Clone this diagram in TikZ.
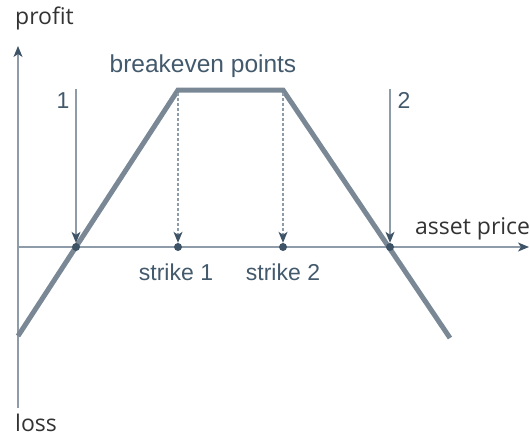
\documentclass[tikz,border=0pt]{standalone}
\usepackage{fontspec}
\setmainfont{Liberation Sans}
\newfontfamily\axisfont{Open Sans}
\usetikzlibrary{arrows.meta}
\definecolor{axisc}{HTML}{8E9CAA}
\definecolor{payc}{HTML}{7A8896}
\definecolor{darkc}{HTML}{3E5366}
\definecolor{labc}{HTML}{43596C}
\definecolor{txtc}{HTML}{333333}
\tikzset{
  axisline/.style={draw=axisc, line width=1.4pt, -{Stealth[length=11pt,width=9pt,inset=3pt,color=darkc,fill=darkc]}},
  payline/.style={draw=payc, line width=5pt, line join=miter},
  pointer/.style={draw=axisc, line width=1.2pt, -{Stealth[length=11pt,width=9pt,inset=3pt,color=darkc,fill=darkc]}},
  dpointer/.style={pointer, dash pattern=on 3pt off 2pt},
  dot/.style={circle, fill=darkc, inner sep=0pt, minimum size=8pt},
  lab/.style={text=labc, font=\fontsize{23}{26}\selectfont, inner sep=0pt},
  axlab/.style={text=txtc, font=\axisfont\fontsize{23}{26}\selectfont, inner sep=0pt},
}
\begin{document}
\begin{tikzpicture}[x=1pt,y=-1pt]
\useasboundingbox (0,0) rectangle (530,437);
% axes
\coordinate (ybot) at (18,408);
\coordinate (ytop) at (18,46);
\coordinate (xl) at (18,247);
\coordinate (xr) at (529,247);
\draw[axisline] (ybot) -- (ytop);
\draw[axisline] (xl) -- (xr);
\node[axlab, anchor=base west] (profit) at (15,24) {profit};
\node[axlab, anchor=base west] (loss) at (15,431) {loss};
\node[axlab, anchor=base west] (asset) at (415,234) {asset price};
% payoff
\coordinate (p0) at (18,336);
\coordinate (p1) at (178,90);
\coordinate (p2) at (283,90);
\coordinate (p3) at (450,338);
\draw[payline] (p0) -- (p1) -- (p2) -- (p3);
% dots
\node[dot] (d1) at (76,247) {};
\node[dot] (s1) at (178,247) {};
\node[dot] (s2) at (283,247) {};
\node[dot] (d2) at (390,247) {};
% pointers
\coordinate (a1) at (76,89);
\coordinate (a2) at (390,89);
\coordinate (b1) at (178,93);
\coordinate (b2) at (283,93);
\draw[pointer] (a1) -- (d1.north);
\draw[pointer] (a2) -- (d2.north);
\draw[dpointer] (b1) -- (s1.north);
\draw[dpointer] (b2) -- (s2.north);
% labels
\node[lab, anchor=base] (l1) at (63,108) {1};
\node[lab, anchor=base] (l2) at (404,108) {2};
\node[lab, anchor=base, font=\fontsize{24.5}{28}\selectfont] (be) at (203,72) {breakeven points};
\node[lab, anchor=base] (t1) at (176,280) {strike 1};
\node[lab, anchor=base] (t2) at (283,280) {strike 2};
\end{tikzpicture}
\end{document}
